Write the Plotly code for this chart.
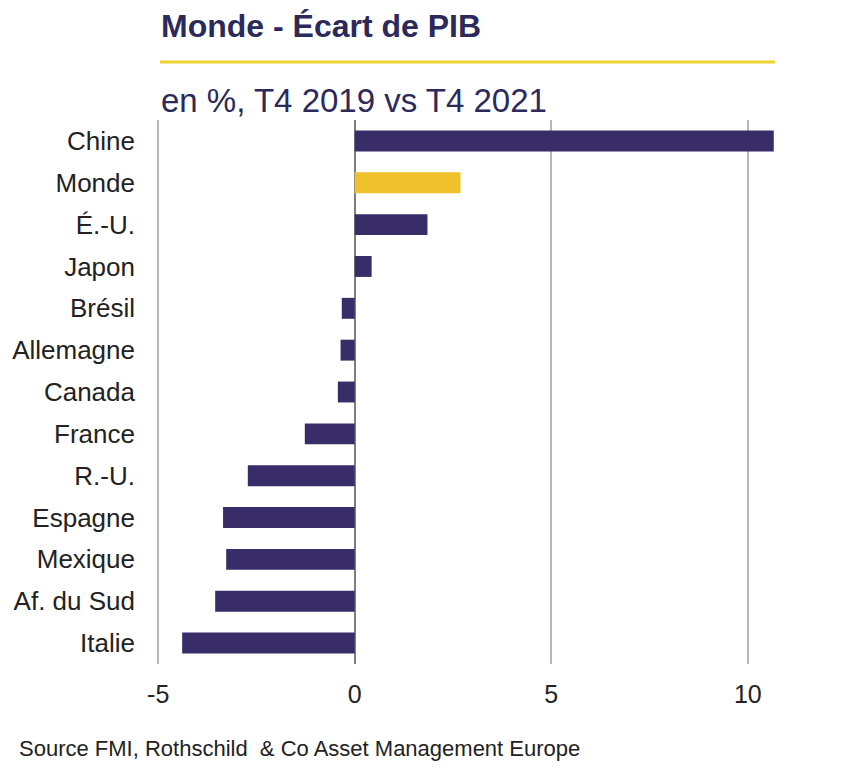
import plotly.graph_objects as go

# Ecart de PIB, en %, T4 2019 vs T4 2021
pays = ["Chine", "Monde", "É.-U.", "Japon", "Brésil", "Allemagne", "Canada",
        "France", "R.-U.", "Espagne", "Mexique", "Af. du Sud", "Italie"]
ecart = [10.66, 2.69, 1.85, 0.43, -0.33, -0.36, -0.43,
         -1.27, -2.72, -3.35, -3.27, -3.55, -4.39]
x_ticks = [-5, 0, 5, 10]
x_labels = ["-5", "0", "5", "10"]

navy = "#392d69"
jaune = "#f0c12c"
couleurs = [jaune if p == "Monde" else navy for p in pays]

L, T, W, H = 149, 112, 627, 544

fig = go.Figure()

fig.add_trace(go.Bar(
    y=pays,
    x=ecart,
    orientation="h",
    marker=dict(color=couleurs, line=dict(width=0)),
    width=0.5,
))

fig.update_layout(
    width=864,
    height=774,
    margin=dict(l=L, r=864 - L - W, t=T, b=774 - T - H),
    paper_bgcolor="white",
    plot_bgcolor="white",
    showlegend=False,
    font=dict(family="Liberation Sans, Arial, sans-serif", color="#222222"),
)

fig.update_xaxes(
    range=[-5.03, 10.92],
    tickvals=x_ticks,
    ticktext=x_labels,
    showgrid=True,
    gridcolor="#b8b8b8",
    gridwidth=2,
    zeroline=True,
    zerolinecolor="#7f7f7f",
    zerolinewidth=2,
    showline=False,
    tickfont=dict(size=25, color="#222222"),
    ticks="",
    ticklabelstandoff=13,
    automargin=False,
    fixedrange=True,
)

fig.update_yaxes(
    categoryorder="array",
    categoryarray=pays[::-1],
    showgrid=False,
    zeroline=False,
    showline=False,
    tickfont=dict(size=26, color="#222222"),
    ticks="",
    ticklabelstandoff=21,
    automargin=False,
    fixedrange=True,
)

# titre, filet jaune, sous-titre, source
fig.add_annotation(
    text="<b>Monde - Écart de PIB</b>",
    xref="paper", yref="paper", x=0, y=1, yshift=94, xshift=2,
    xanchor="left", yanchor="middle", showarrow=False,
    font=dict(size=32, color="#2b2a5a"),
)
fig.add_shape(
    type="line", xref="paper", yref="paper",
    x0=3 / W, x1=618 / W,
    y0=1 + 58 / H, y1=1 + 58 / H,
    line=dict(color="#ecd22e", width=3),
)
fig.add_annotation(
    text="en %, T4 2019 vs T4 2021",
    xref="paper", yref="paper", x=0, y=1, yshift=20, xshift=2,
    xanchor="left", yanchor="middle", showarrow=False,
    font=dict(size=33, color="#2b2a5a"),
)
fig.add_annotation(
    text="Source FMI, Rothschild  & Co Asset Management Europe",
    xref="paper", yref="paper", x=0, y=0, xshift=-140, yshift=-84,
    xanchor="left", yanchor="middle", showarrow=False,
    font=dict(size=22, color="#222222"),
)

fig.write_html("out.html")
